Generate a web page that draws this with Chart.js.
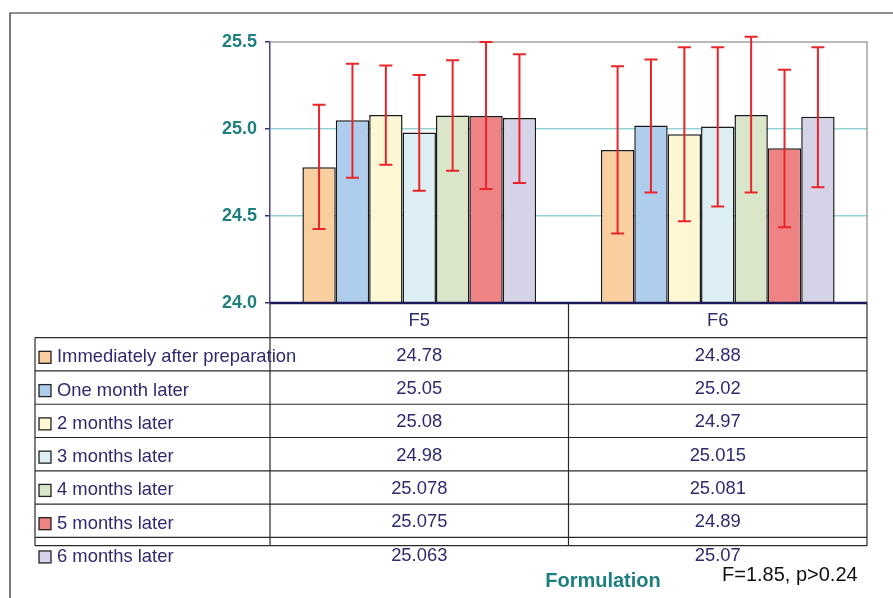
<!DOCTYPE html>
<html>
<head>
<meta charset="utf-8">
<script src="https://cdn.jsdelivr.net/npm/chart.js@4.4.1/dist/chart.umd.min.js"></script>
<style>
    body { margin: 0; background: #fff; }
    canvas { display: block; }
</style>
</head>
<body>
<canvas id="chart" width="893" height="598"></canvas>
<script>
// categories and series
const formulations = ["F5", "F6"];
const seriesNames = [
    "Immediately after preparation",
    "One month later",
    "2 months later",
    "3 months later",
    "4 months later",
    "5 months later",
    "6 months later"
];
const seriesColors = ["#f9cfa0", "#afcdec", "#fdf7d4", "#ddeff5", "#dae6c9", "#ef8282", "#d6d3e8"];

// mean values [F5, F6]
const immediately = [24.78, 24.88];
const oneMonth = [25.05, 25.02];
const twoMonths = [25.08, 24.97];
const threeMonths = [24.98, 25.015];
const fourMonths = [25.078, 25.081];
const fiveMonths = [25.075, 24.89];
const sixMonths = [25.063, 25.07];

// error bar ends [F5, F6]
const errHigh = [
    [25.14, 25.36],
    [25.375, 25.40],
    [25.365, 25.47],
    [25.31, 25.47],
    [25.395, 25.53],
    [25.50, 25.34],
    [25.43, 25.47]
];
const errLow = [
    [24.425, 24.40],
    [24.72, 24.635],
    [24.795, 24.47],
    [24.645, 24.555],
    [24.76, 24.635],
    [24.655, 24.435],
    [24.69, 24.665]
];

const yTicks = [24.0, 24.5, 25.0, 25.5];
const statText = "F=1.85, p>0.24";
const axisTitle = "Formulation";

const allValues = [immediately, oneMonth, twoMonths, threeMonths, fourMonths, fiveMonths, sixMonths];

const textColor = "#2e2a6e";

// outer frame, plot border and base line
const framePlugin = {
    id: "frame",
    beforeDraw(chart) {
        const ctx = chart.ctx;
        ctx.save();
        ctx.fillStyle = "#fff";
        ctx.fillRect(0, 0, chart.width, chart.height);
        ctx.strokeStyle = "#222";
        ctx.lineWidth = 1.2;
        ctx.beginPath();
        ctx.moveTo(10, chart.height);
        ctx.lineTo(10, 13);
        ctx.lineTo(chart.width, 13);
        ctx.stroke();
        ctx.restore();
    },
    afterDatasetsDraw(chart) {
        const ctx = chart.ctx;
        const a = chart.chartArea;
        ctx.save();
        ctx.strokeStyle = "#a3a3a3";
        ctx.lineWidth = 1.5;
        ctx.beginPath();
        ctx.moveTo(a.left, a.top);
        ctx.lineTo(a.right, a.top);
        ctx.lineTo(a.right, a.bottom);
        ctx.stroke();
        ctx.strokeStyle = "#1d1a5c";
        ctx.lineWidth = 2.5;
        ctx.beginPath();
        ctx.moveTo(a.left, a.bottom);
        ctx.lineTo(a.right, a.bottom);
        ctx.stroke();
        ctx.restore();
    }
};

// error bars from the bar elements and the y scale
const errorBarPlugin = {
    id: "errorBars",
    afterDatasetsDraw(chart) {
        const ctx = chart.ctx;
        const y = chart.scales.y;
        ctx.save();
        ctx.strokeStyle = "#e8262a";
        ctx.lineWidth = 2;
        chart.data.datasets.forEach((ds, i) => {
            const meta = chart.getDatasetMeta(i);
            meta.data.forEach((bar, j) => {
                const top = y.getPixelForValue(errHigh[i][j]);
                const bot = y.getPixelForValue(errLow[i][j]);
                const cap = 6.5;
                ctx.beginPath();
                ctx.moveTo(bar.x, top);
                ctx.lineTo(bar.x, bot);
                ctx.moveTo(bar.x - cap, top);
                ctx.lineTo(bar.x + cap, top);
                ctx.moveTo(bar.x - cap, bot);
                ctx.lineTo(bar.x + cap, bot);
                ctx.stroke();
            });
        });
        ctx.restore();
    }
};

// Excel style data table under the chart
const dataTablePlugin = {
    id: "dataTable",
    afterDraw(chart) {
        const ctx = chart.ctx;
        const a = chart.chartArea;
        const x = chart.scales.x;
        const tableLeft = 35;
        const tableTop = 337.7;
        const rowH = 33.27;
        const tableBottom = 545.7;
        const colSplit = (x.getPixelForValue(0) + x.getPixelForValue(1)) / 2;

        ctx.save();
        ctx.strokeStyle = "#2a2a2a";
        ctx.lineWidth = 1.2;
        ctx.beginPath();
        // vertical lines
        [a.left, colSplit, a.right].forEach(vx => {
            ctx.moveTo(vx, a.bottom);
            ctx.lineTo(vx, tableBottom);
        });
        ctx.moveTo(tableLeft, tableTop);
        ctx.lineTo(tableLeft, tableBottom);
        // horizontal lines
        for (let r = 0; r < seriesNames.length; r++) {
            const ly = tableTop + r * rowH;
            ctx.moveTo(tableLeft, ly);
            ctx.lineTo(a.right, ly);
        }
        ctx.moveTo(tableLeft, tableBottom);
        ctx.lineTo(a.right, tableBottom);
        ctx.stroke();

        ctx.font = "18.4px 'Liberation Sans', Arial, sans-serif";
        ctx.fillStyle = textColor;
        ctx.textBaseline = "middle";
        ctx.textAlign = "center";
        formulations.forEach((f, j) => {
            ctx.fillText(f, x.getPixelForValue(j), (a.bottom + tableTop) / 2 + 1);
        });

        seriesNames.forEach((name, r) => {
            const cy = tableTop + r * rowH + rowH / 2 + 3;
            ctx.fillStyle = seriesColors[r];
            ctx.fillRect(39, cy - 6, 12, 12);
            ctx.strokeStyle = "#222";
            ctx.lineWidth = 1.3;
            ctx.strokeRect(39, cy - 6, 12, 12);
            ctx.fillStyle = textColor;
            ctx.textAlign = "left";
            ctx.fillText(name, 57, cy);
            ctx.textAlign = "center";
            allValues[r].forEach((v, j) => {
                ctx.fillText(String(v), x.getPixelForValue(j), cy - 1.5);
            });
        });

        ctx.font = "bold 20px 'Liberation Sans', Arial, sans-serif";
        ctx.fillStyle = "#1f7f7f";
        ctx.textAlign = "center";
        ctx.fillText(axisTitle, 603, 581);

        ctx.font = "20px 'Liberation Sans', Arial, sans-serif";
        ctx.fillStyle = "#111";
        ctx.textAlign = "left";
        ctx.fillText(statText, 722, 575);
        ctx.restore();
    }
};

const ctx = document.getElementById("chart").getContext("2d");
new Chart(ctx, {
    type: "bar",
    data: {
        labels: formulations,
        datasets: seriesNames.map((name, i) => ({
            label: name,
            data: allValues[i],
            backgroundColor: seriesColors[i],
            borderColor: "#1a1a1a",
            borderWidth: 1.5,
            barPercentage: 1,
            categoryPercentage: 0.783
        }))
    },
    options: {
        responsive: false,
        animation: false,
        layout: { padding: { left: 0, top: 42, right: 26, bottom: 295 } },
        plugins: {
            legend: { display: false },
            tooltip: { enabled: false }
        },
        scales: {
            x: { display: false },
            y: {
                min: yTicks[0],
                max: yTicks[yTicks.length - 1],
                afterFit(scale) { scale.width = 270; },
                afterBuildTicks(scale) { scale.ticks = yTicks.map(v => ({ value: v })); },
                ticks: {
                    padding: 8,
                    color: "#1f7f7f",
                    font: { family: "'Liberation Sans', Arial, sans-serif", size: 18, weight: "bold" },
                    callback: v => Number(v).toFixed(1)
                },
                grid: {
                    tickLength: 5,
                    lineWidth: 1.5,
                    tickColor: "#3c3670",
                    color: c => {
                        const v = c.tick ? c.tick.value : null;
                        if (v === 25 || v === 24.5) return "#93d3d6";
                        return "rgba(0,0,0,0)";
                    }
                },
                border: { color: "#4b4488", width: 1.5 }
            }
        }
    },
    plugins: [framePlugin, errorBarPlugin, dataTablePlugin]
});
</script>
</body>
</html>
